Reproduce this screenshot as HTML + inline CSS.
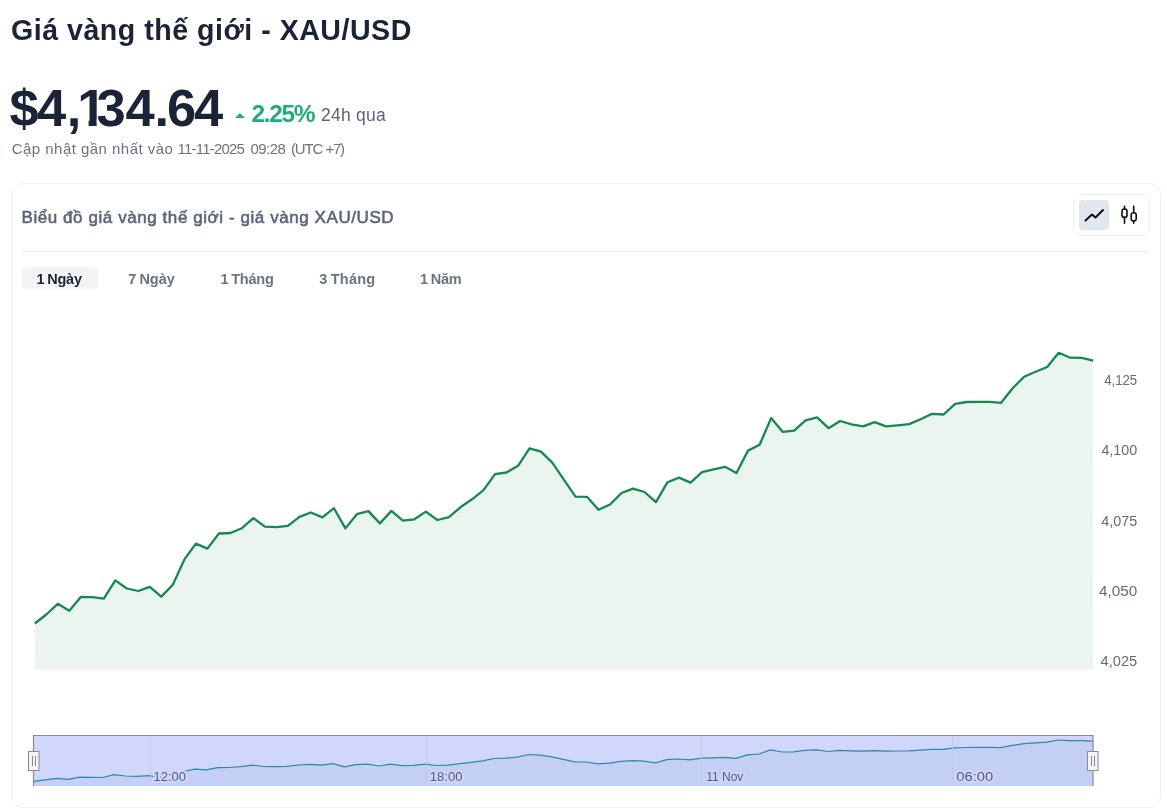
<!DOCTYPE html>
<html lang="vi"><head><meta charset="utf-8"><title>Giá vàng thế giới - XAU/USD</title>
<style>
html,body{margin:0;padding:0;background:#fff;}
body{width:1167px;height:811px;position:relative;overflow:hidden;font-family:"Liberation Sans",sans-serif;color:#1b2436;}
.abs{position:absolute;white-space:nowrap;line-height:1;}
#title{left:11px;top:15.6px;font-size:28.6px;font-weight:700;color:#1b2436;letter-spacing:0.5px;}
#price{left:0;top:82px;font-size:52.5px;font-weight:700;color:#1b2436;}
#price span{position:absolute;top:0;transform:translateX(-50%);}
#pct{left:251.6px;top:101.8px;font-size:24.5px;letter-spacing:-1.4px;font-weight:700;color:#22ab7e;}
#tri{left:235px;top:113px;width:0;height:0;border-left:5px solid transparent;border-right:5px solid transparent;border-bottom:5px solid #22ab7e;}
#qua{left:321px;top:106.8px;font-size:17.5px;letter-spacing:0.25px;color:#5b6478;}
#upd{left:0;top:140.5px;font-size:15px;color:#6b7280;}
#upd span{position:absolute;top:0;}
#card{position:absolute;left:11px;top:183px;width:1148px;height:623px;border:1px solid #f0f1f4;border-radius:11px;box-sizing:content-box;}
#ctitle{left:21.5px;top:209px;font-size:17px;letter-spacing:0.57px;font-weight:400;-webkit-text-stroke:0.55px #5b6478;color:#5b6478;}
#sep{position:absolute;left:22px;top:251px;width:1128px;height:1px;background:#eef0f2;}
#tog{position:absolute;left:1073px;top:194px;width:75px;height:40px;border:1px solid #eef0f3;border-radius:6px;}
#togact{position:absolute;left:1079px;top:200px;width:30px;height:30px;background:#e2e6ee;border-radius:4px;}
.tab{font-size:14.5px;font-weight:700;color:#6b7280;top:271.6px;letter-spacing:-0.2px;word-spacing:-1px;}
#tabbg{position:absolute;left:22px;top:267.3px;width:75.6px;height:22.2px;background:#f3f4f6;border-radius:5px;}
svg{position:absolute;left:0;top:0;}
.yl{font-size:14px;fill:#666b75;font-family:"Liberation Sans",sans-serif;}
.nl{font-size:13.7px;fill:#575c7e;stroke:#cfd6fa;stroke-width:4.2px;paint-order:stroke;stroke-linejoin:round;font-family:"Liberation Sans",sans-serif;}
</style></head><body>
<div id="title" class="abs">Giá vàng thế giới - XAU/USD</div>
<div id="price" class="abs"><span style="left:24.15px">$</span><span style="left:51.6px">4</span><span style="left:74px">,</span><span style="left:91.8px;clip-path:polygon(0 0,100% 0,100% 37.6px,19.4px 37.6px,19.4px 100%,11.4px 100%,11.4px 37.6px,0 37.6px)">1</span><span style="left:111px">3</span><span style="left:140px">4</span><span style="left:161.75px">.</span><span style="left:181.5px">6</span><span style="left:208.7px">4</span></div>
<div id="tri" class="abs"></div>
<div id="pct" class="abs">2.25%</div>
<div id="qua" class="abs">24h qua</div>
<div id="upd" class="abs"><span style="left:11.7px;letter-spacing:0.47px">Cập nhật gần nhất vào</span> <span style="left:177.6px;letter-spacing:-0.8px">11-11-2025</span> <span style="left:250.6px;letter-spacing:-0.58px">09:28</span> <span style="left:291px;letter-spacing:-1.2px;word-spacing:0.4px">(UTC +7)</span></div>
<div id="card"></div>
<div id="ctitle" class="abs">Biểu đồ giá vàng thế giới - giá vàng XAU/USD</div>
<div id="tog"></div><div id="togact"></div>
<div id="sep"></div>
<div id="tabbg"></div>
<div class="abs tab" style="left:36.5px;color:#1b2436">1 Ngày</div>
<div class="abs tab" style="left:128.3px;letter-spacing:0">7 Ngày</div>
<div class="abs tab" style="left:220.5px">1 Tháng</div>
<div class="abs tab" style="left:319.3px;letter-spacing:0.2px">3 Tháng</div>
<div class="abs tab" style="left:420px">1 Năm</div>
<svg width="1167" height="811" viewBox="0 0 1167 811">
<polygon points="34.8,669.5 34.8,623.5 46.3,614.5 57.8,603.8 69.3,610.7 80.8,596.9 92.3,597.1 103.8,598.6 115.3,580.4 126.8,588.5 138.3,591.0 149.8,586.8 161.3,596.6 172.8,584.8 184.4,559.4 195.9,543.6 207.4,548.6 218.9,533.5 230.4,533.0 241.9,528.2 253.4,518.1 264.9,526.7 276.4,527.2 287.9,525.8 299.4,516.9 310.9,512.5 322.4,517.4 333.9,508.2 345.4,528.4 356.9,514.2 368.4,511.1 379.9,523.4 391.4,510.9 402.9,520.7 414.4,519.3 425.9,511.6 437.4,520.0 448.9,517.1 460.4,507.3 472.0,499.3 483.5,490.1 495.0,474.2 506.5,472.5 518.0,465.8 529.5,448.3 541.0,451.6 552.5,462.9 564.0,479.8 575.5,496.6 587.0,496.8 598.5,509.8 610.0,504.5 621.5,493.0 633.0,488.7 644.5,492.0 656.0,502.1 667.5,482.2 679.0,477.6 690.5,482.6 702.0,472.1 713.5,469.4 725.0,466.8 736.5,473.0 748.0,450.6 759.6,444.8 771.1,418.1 782.6,431.8 794.1,430.6 805.6,420.3 817.1,417.4 828.6,428.2 840.1,421.0 851.6,424.4 863.1,426.3 874.6,422.2 886.1,426.3 897.6,425.3 909.1,424.1 920.6,419.3 932.1,413.8 943.6,414.5 955.1,403.9 966.6,402.0 978.1,401.8 989.6,401.8 1001.1,402.8 1012.6,388.3 1024.1,376.8 1035.6,371.8 1047.2,367.0 1058.7,352.8 1070.2,357.7 1081.7,357.8 1093.2,360.6 1093.2,669.5" fill="#ebf5f0"/>
<polyline points="34.8,623.5 46.3,614.5 57.8,603.8 69.3,610.7 80.8,596.9 92.3,597.1 103.8,598.6 115.3,580.4 126.8,588.5 138.3,591.0 149.8,586.8 161.3,596.6 172.8,584.8 184.4,559.4 195.9,543.6 207.4,548.6 218.9,533.5 230.4,533.0 241.9,528.2 253.4,518.1 264.9,526.7 276.4,527.2 287.9,525.8 299.4,516.9 310.9,512.5 322.4,517.4 333.9,508.2 345.4,528.4 356.9,514.2 368.4,511.1 379.9,523.4 391.4,510.9 402.9,520.7 414.4,519.3 425.9,511.6 437.4,520.0 448.9,517.1 460.4,507.3 472.0,499.3 483.5,490.1 495.0,474.2 506.5,472.5 518.0,465.8 529.5,448.3 541.0,451.6 552.5,462.9 564.0,479.8 575.5,496.6 587.0,496.8 598.5,509.8 610.0,504.5 621.5,493.0 633.0,488.7 644.5,492.0 656.0,502.1 667.5,482.2 679.0,477.6 690.5,482.6 702.0,472.1 713.5,469.4 725.0,466.8 736.5,473.0 748.0,450.6 759.6,444.8 771.1,418.1 782.6,431.8 794.1,430.6 805.6,420.3 817.1,417.4 828.6,428.2 840.1,421.0 851.6,424.4 863.1,426.3 874.6,422.2 886.1,426.3 897.6,425.3 909.1,424.1 920.6,419.3 932.1,413.8 943.6,414.5 955.1,403.9 966.6,402.0 978.1,401.8 989.6,401.8 1001.1,402.8 1012.6,388.3 1024.1,376.8 1035.6,371.8 1047.2,367.0 1058.7,352.8 1070.2,357.7 1081.7,357.8 1093.2,360.6" fill="none" stroke="#17884f" stroke-width="2.3" stroke-linejoin="round" stroke-linecap="butt"/>
<g class="yl" text-anchor="end">
<text x="1137.2" y="384.7" textLength="33" lengthAdjust="spacingAndGlyphs">4,125</text>
<text x="1137.2" y="455.1" textLength="35.8" lengthAdjust="spacingAndGlyphs">4,100</text>
<text x="1137.2" y="525.6" textLength="36" lengthAdjust="spacingAndGlyphs">4,075</text>
<text x="1137.2" y="596" textLength="38.2" lengthAdjust="spacingAndGlyphs">4,050</text>
<text x="1137.2" y="666.4" textLength="36.7" lengthAdjust="spacingAndGlyphs">4,025</text>
</g>
<!-- navigator -->
<rect x="33.5" y="735.5" width="1059.5" height="50.5" fill="#d1d7fb"/>
<polygon points="33.5,786 33.5,781.3 45.0,779.9 56.5,778.3 68.0,779.3 79.6,777.2 91.1,777.3 102.6,777.5 114.1,774.7 125.6,776.0 137.1,776.3 148.7,775.7 160.2,777.2 171.7,775.4 183.2,771.5 194.7,769.1 206.2,769.9 217.8,767.6 229.3,767.5 240.8,766.7 252.3,765.2 263.8,766.5 275.3,766.6 286.9,766.4 298.4,765.0 309.9,764.4 321.4,765.1 332.9,763.7 344.4,766.8 355.9,764.6 367.5,764.1 379.0,766.0 390.5,764.1 402.0,765.6 413.5,765.4 425.0,764.2 436.6,765.5 448.1,765.1 459.6,763.6 471.1,762.3 482.6,760.9 494.1,758.5 505.7,758.2 517.2,757.2 528.7,754.5 540.2,755.1 551.7,756.8 563.2,759.4 574.7,761.9 586.3,762.0 597.8,763.9 609.3,763.1 620.8,761.4 632.3,760.7 643.8,761.2 655.4,762.8 666.9,759.7 678.4,759.0 689.9,759.8 701.4,758.2 712.9,757.8 724.5,757.4 736.0,758.3 747.5,754.9 759.0,754.0 770.5,749.9 782.0,752.0 793.6,751.8 805.1,750.3 816.6,749.8 828.1,751.5 839.6,750.4 851.1,750.9 862.6,751.2 874.2,750.6 885.7,751.2 897.2,751.0 908.7,750.9 920.2,750.1 931.7,749.3 943.3,749.4 954.8,747.8 966.3,747.5 977.8,747.4 989.3,747.4 1000.8,747.6 1012.4,745.4 1023.9,743.6 1035.4,742.9 1046.9,742.1 1058.4,740.0 1069.9,740.7 1081.5,740.7 1093.0,741.2 1093.0,786" fill="#c3cff4"/>
<polyline points="33.5,781.3 45.0,779.9 56.5,778.3 68.0,779.3 79.6,777.2 91.1,777.3 102.6,777.5 114.1,774.7 125.6,776.0 137.1,776.3 148.7,775.7 160.2,777.2 171.7,775.4 183.2,771.5 194.7,769.1 206.2,769.9 217.8,767.6 229.3,767.5 240.8,766.7 252.3,765.2 263.8,766.5 275.3,766.6 286.9,766.4 298.4,765.0 309.9,764.4 321.4,765.1 332.9,763.7 344.4,766.8 355.9,764.6 367.5,764.1 379.0,766.0 390.5,764.1 402.0,765.6 413.5,765.4 425.0,764.2 436.6,765.5 448.1,765.1 459.6,763.6 471.1,762.3 482.6,760.9 494.1,758.5 505.7,758.2 517.2,757.2 528.7,754.5 540.2,755.1 551.7,756.8 563.2,759.4 574.7,761.9 586.3,762.0 597.8,763.9 609.3,763.1 620.8,761.4 632.3,760.7 643.8,761.2 655.4,762.8 666.9,759.7 678.4,759.0 689.9,759.8 701.4,758.2 712.9,757.8 724.5,757.4 736.0,758.3 747.5,754.9 759.0,754.0 770.5,749.9 782.0,752.0 793.6,751.8 805.1,750.3 816.6,749.8 828.1,751.5 839.6,750.4 851.1,750.9 862.6,751.2 874.2,750.6 885.7,751.2 897.2,751.0 908.7,750.9 920.2,750.1 931.7,749.3 943.3,749.4 954.8,747.8 966.3,747.5 977.8,747.4 989.3,747.4 1000.8,747.6 1012.4,745.4 1023.9,743.6 1035.4,742.9 1046.9,742.1 1058.4,740.0 1069.9,740.7 1081.5,740.7 1093.0,741.2" fill="none" stroke="#2f8aa6" stroke-width="1.2" stroke-linejoin="round"/>
<g stroke="#c0c7ec" stroke-width="1">
<line x1="150.5" y1="736" x2="150.5" y2="786"/><line x1="426.5" y1="736" x2="426.5" y2="786"/><line x1="701.5" y1="736" x2="701.5" y2="786"/><line x1="952.5" y1="736" x2="952.5" y2="786"/>
</g>
<path d="M33.5 786 V735.5 H1093 V786" fill="none" stroke="#8a8a90" stroke-width="1.2"/>
<g class="nl">
<text x="153.6" y="780.8" textLength="32.3" lengthAdjust="spacingAndGlyphs">12:00</text><text x="429.8" y="780.8" textLength="32.8" lengthAdjust="spacingAndGlyphs">18:00</text><text x="706.2" y="780.8" textLength="37.2" lengthAdjust="spacingAndGlyphs">11 Nov</text><text x="956.3" y="780.8" textLength="36.9" lengthAdjust="spacingAndGlyphs">06:00</text>
</g>
<g fill="#f5f5f5" stroke="#8a8a90" stroke-width="1">
<rect x="28.5" y="751.5" width="10.5" height="19" /><rect x="1087.5" y="751.5" width="10.5" height="19"/>
</g>
<g stroke="#8a8a90" stroke-width="1">
<line x1="32.5" y1="756" x2="32.5" y2="766"/><line x1="35.5" y1="756" x2="35.5" y2="766"/>
<line x1="1091.5" y1="756" x2="1091.5" y2="766"/><line x1="1094.5" y1="756" x2="1094.5" y2="766"/>
</g>
<!-- toggle icons -->
<path d="M1085.5 220.5 L1092 214.5 L1095.5 217.5 L1103 210" fill="none" stroke="#111" stroke-width="2" stroke-linecap="round" stroke-linejoin="round"/>
<g fill="none" stroke="#111" stroke-width="1.6" stroke-linecap="round">
<rect x="1122" y="209" width="5" height="8.4" rx="2.2"/><line x1="1124.5" y1="206.4" x2="1124.5" y2="209"/><line x1="1124.5" y1="217.4" x2="1124.5" y2="223.3"/>
<rect x="1131.2" y="212.8" width="5" height="8.2" rx="2.2"/><line x1="1133.7" y1="206.4" x2="1133.7" y2="212.8"/><line x1="1133.7" y1="221" x2="1133.7" y2="223.3"/>
</g>
</svg>
</body></html>
